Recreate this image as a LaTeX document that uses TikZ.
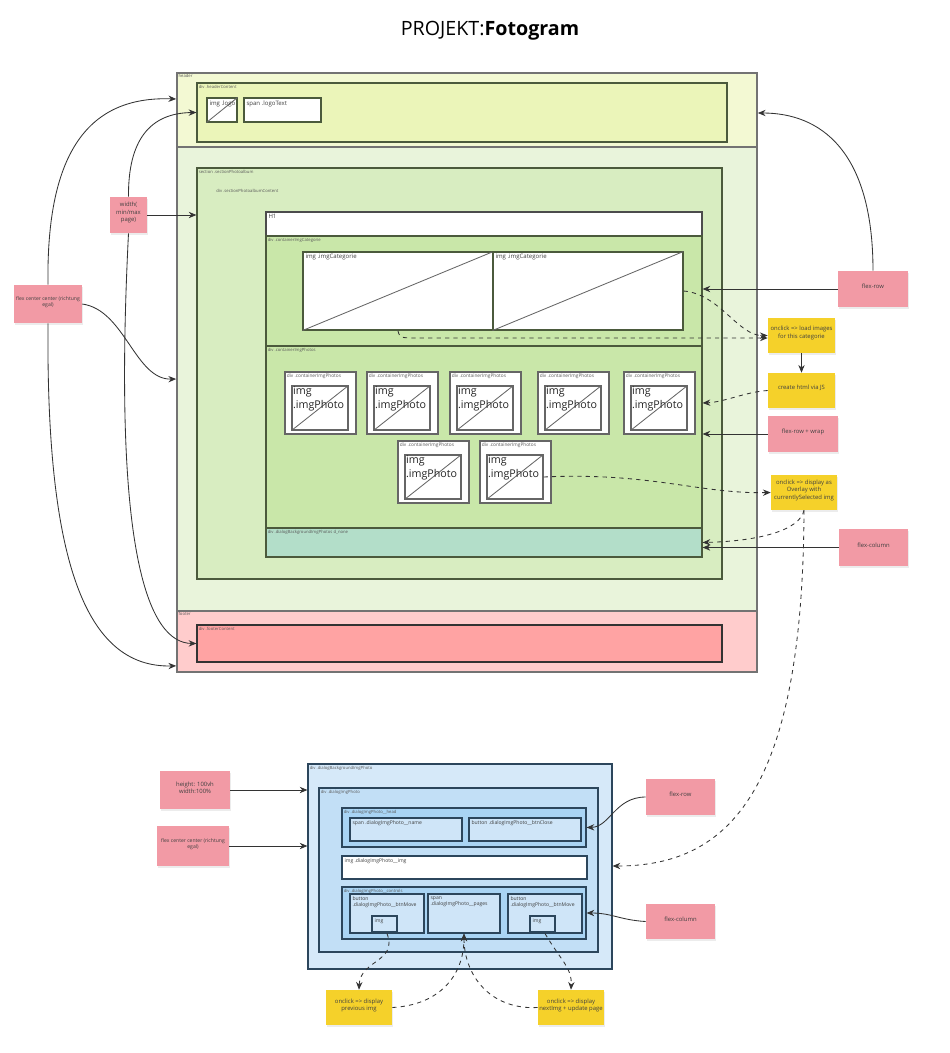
\documentclass[tikz,border=0pt]{standalone}
\usepackage{fontspec}
\setmainfont{Open Sans}
\usetikzlibrary{arrows.meta}
\usetikzlibrary{fit}
\usetikzlibrary{calc}
\usetikzlibrary{shadows}

\definecolor{hdrOuter}{HTML}{F3F9D3}
\definecolor{hdrInner}{HTML}{EBF5B9}
\definecolor{secOuter}{HTML}{E9F4DB}
\definecolor{secInner}{HTML}{D8EDC1}
\definecolor{contGreen}{HTML}{C9E7A9}
\definecolor{dlgTeal}{HTML}{B3DEC9}
\definecolor{ftrOuter}{HTML}{FFCCCC}
\definecolor{ftrInner}{HTML}{FFA3A3}
\definecolor{blueOuter}{HTML}{D6E9F9}
\definecolor{blueMid}{HTML}{C2DFF6}
\definecolor{blueDark}{HTML}{A9D4F4}
\definecolor{blueLight}{HTML}{CFE5F8}
\definecolor{notePink}{HTML}{F29AA5}
\definecolor{noteYellow}{HTML}{F5D12A}
\definecolor{greenLine}{HTML}{4B5A3C}
\definecolor{blueLine}{HTML}{2C465C}

\begin{document}
\begin{tikzpicture}[x=0.025cm, y=-0.025cm,
		box/.style={draw=#1, line width=0.8pt, inner sep=0pt},
		box/.default=greenLine,
		tag/.style={anchor=north west, inner sep=1.5pt, font=\fontsize{3}{3.6}\selectfont, text=black!65},
		lbl/.style={anchor=north west, inner sep=2pt, align=left, font=\fontsize{4.3}{5.4}\selectfont, text=black!75},
		smalllbl/.style={lbl, font=\fontsize{3.6}{4.6}\selectfont},
		photolbl/.style={anchor=north west, inner sep=1pt, align=left, font=\fontsize{7.6}{9.6}\selectfont, text=black!85},
		diag/.style={draw=black!60, line width=0.6pt},
		note/.style={inner sep=0pt, align=center, text width=1.45cm, font=\fontsize{4.2}{5.4}\selectfont, text=black!75,
			drop shadow={opacity=0.15, shadow xshift=0.4pt, shadow yshift=-1.3pt}},
		pinknote/.style={note, fill=notePink},
		yellownote/.style={note, fill=noteYellow},
		conn/.style={-{Stealth[length=5.5pt,width=4.5pt]}, line width=0.6pt, draw=black!80},
		dashconn/.style={conn, dashed}]
	\useasboundingbox (0,0) rectangle (949,1053);

	\node[font=\fontsize{14}{16}\selectfont] (title) at (490,31) {PROJEKT:\textbf{Fotogram}};

	% header
	\node[box=black!55, line width=1.2pt, fill=hdrOuter, fit={(177,73) (757,147)}] (header) {};
	\node[tag] at (header.north west) {header};
	\node[box, fill=hdrInner, fit={(197,83) (727,142)}] (hdc) {};
	\node[tag] at (hdc.north west) {div .headerContent};
	\node[box, fill=white, fit={(207,98) (237,122)}] (logo) {};
	\draw[diag] (logo.south west) -- (logo.north east);
	\node[lbl] at (logo.north west) {img .logo};
	\node[box, fill=white, fit={(244,98) (321,122)}] (logotxt) {};
	\node[lbl] at (logotxt.north west) {span .logoText};

	% section
	\node[box=black!55, line width=1.2pt, fill=secOuter, fit={(177,147) (757,611)}] (sec) {};
	\node[box, fill=secInner, fit={(197,168) (722,579)}] (secbox) {};
	\node[tag] at (secbox.north west) {section .sectionPhotoalbum};
	\node[tag] at (214,187) {div .sectionPhotoalbumContent};
	\node[box=black!70, fill=white, fit={(266,212) (702,236)}] (hone) {};
	\node[lbl] at (hone.north west) {H1};
	\node[box, fill=contGreen, fit={(266,236) (702,346)}] (catbox) {};
	\node[tag] at (catbox.north west) {div .containerImgCategorie};
	\node[box, fill=white, fit={(303,252) (493,330)}] (imgA) {};
	\draw[diag] (imgA.south west) -- (imgA.north east);
	\node[lbl] at (imgA.north west) {img .imgCategorie};
	\node[box, fill=white, fit={(493,252) (683,330)}] (imgB) {};
	\draw[diag] (imgB.south west) -- (imgB.north east);
	\node[lbl] at (imgB.north west) {img .imgCategorie};

	\node[box, fill=contGreen, fit={(266,346) (702,528)}] (photos) {};
	\node[tag] at (photos.north west) {div .containerImgPhotos};
	\foreach \x [count=\i] in {285,367,450,538,624} {
		\node[box=black!60, fill=white, fit={(\x,372) (\x+71,434)}] (cont\i) {};
		\node[tag, font=\fontsize{3.4}{4}\selectfont] at (cont\i.north west) {div .containerImgPhotos};
		\node[box=black!60, fill=white, fit={(\x+7,386) (\x+63,430)}] (pic\i) {};
		\draw[diag] (pic\i.south west) -- (pic\i.north east);
		\node[photolbl] at (pic\i.north west) {img\\.imgPhoto};
	}
	\foreach \x [count=\i from 6] in {398,480} {
		\node[box=black!60, fill=white, fit={(\x,441) (\x+71,503)}] (cont\i) {};
		\node[tag, font=\fontsize{3.4}{4}\selectfont] at (cont\i.north west) {div .containerImgPhotos};
		\node[box=black!60, fill=white, fit={(\x+7,455) (\x+63,499)}] (pic\i) {};
		\draw[diag] (pic\i.south west) -- (pic\i.north east);
		\node[photolbl] at (pic\i.north west) {img\\.imgPhoto};
	}
	\node[box, fill=dlgTeal, fit={(266,528) (702,557)}] (dlgph) {};
	\node[tag] at (dlgph.north west) {div .dialogBackgroundImgPhotos d\_none};

	% footer
	\node[box=black!55, line width=1.2pt, fill=ftrOuter, fit={(177,611) (757,672)}] (footer) {};
	\node[tag] at (footer.north west) {footer};
	\node[box=black!80, fill=ftrInner, fit={(197,625) (722,662)}] (ftc) {};
	\node[tag] at (ftc.north west) {div .footerContent};

	% notes oben
	\node[pinknote, text width=0.85cm, fit={(110,197) (147,233)}] (wdt) {width(\\min/max\\page)};
	\node[pinknote, font=\fontsize{3.6}{4.8}\selectfont, fit={(14,285) (82,323)}] (fcc) {\mbox{flex center center (richtung}\\egal)};
	\node[pinknote, fit={(838,271) (908,307)}] (frow) {flex-row};
	\node[yellownote, fit={(768,318) (835,353)}] (load) {onclick => load images for this categorie};
	\node[yellownote, fit={(768,373) (835,408)}] (chtml) {create html via JS};
	\node[pinknote, fit={(768,416) (838,452)}] (frw) {flex-row + wrap};
	\node[yellownote, fit={(771,475) (837,510)}] (ovl) {onclick => display as Overlay with currentlySelected img};
	\node[pinknote, fit={(839,529) (908,566)}] (fcol) {flex-column};

	\draw[conn] (fcc.north) .. controls (46,150) and (90,96) .. ($(header.west)+(0,-11)$);
	\draw[conn] (fcc.east) .. controls (125,310) and (135,380) .. (sec.west);
	\draw[conn] (fcc.south) .. controls (46,560) and (85,668) .. ($(footer.south west)+(0,-7)$);
	\draw[conn] (wdt.north) .. controls (128,140) and (150,113) .. (hdc.west);
	\draw[conn] (wdt.east) -- (secbox.west |- wdt.east);
	\draw[conn] (wdt.south) .. controls (112,560) and (150,643) .. (ftc.west);
	\draw[conn] (frow.north) .. controls (873,150) and (820,113) .. ($(header.east)+(0,3)$);
	\draw[conn] (frow.west) -- (catbox.east |- frow.west);
	\draw[dashconn] (imgB.east) .. controls (720,294) and (738,336) .. (load.west);
	\draw[dashconn] (398,331) .. controls (400,338) .. (420,338) -- (load.west |- 0,338);
	\draw[conn] (load.south) -- (chtml.north);
	\draw[dashconn] (chtml.west) .. controls (745,392) and (725,402) .. ($(photos.east)+(0,-34)$);
	\draw[conn] (frw.west) -- (photos.east |- frw.west);
	\draw[dashconn] (pic7.east) .. controls (650,472) and (700,494) .. (ovl.west);
	\draw[dashconn] (ovl.south) .. controls (800,530) and (760,541) .. (dlgph.east);
	\draw[conn] (fcol.west) -- (dlgph.east |- fcol.west);

	% dialog
	\node[box=blueLine, fill=blueOuter, fit={(308,764) (612,969)}] (dlgbg) {};
	\node[tag] at (dlgbg.north west) {div .dialogBackgroundImgPhoto};
	\node[box=blueLine, fill=blueMid, fit={(319,788) (598,952)}] (dlg) {};
	\node[tag] at (dlg.north west) {div .dialogImgPhoto};
	\node[box=blueLine, fill=blueDark, fit={(342,808) (586,847)}] (dhead) {};
	\node[tag] at (dhead.north west) {div .dialogImgPhoto\_\_head};
	\node[box=blueLine, fill=blueLight, fit={(350,818) (462,841)}] (dname) {};
	\node[smalllbl] at (dname.north west) {span .dialogImgPhoto\_\_name};
	\node[box=blueLine, fill=blueLight, fit={(469,818) (581,841)}] (dclose) {};
	\node[smalllbl] at (dclose.north west) {button .dialogImgPhoto\_\_btnClose};
	\node[box=blueLine, fill=white, fit={(342,856) (587,879)}] (dimg) {};
	\node[smalllbl] at (dimg.north west) {img .dialogImgPhoto\_\_img};
	\node[box=blueLine, fill=blueDark, fit={(342,887) (586,939)}] (dctrl) {};
	\node[tag] at (dctrl.north west) {div .dialogImgPhoto\_\_controls};
	\node[box=blueLine, fill=blueLight, fit={(350,894) (424,933)}] (btnL) {};
	\node[smalllbl] at (btnL.north west) {button\\.dialogImgPhoto\_\_btnMove};
	\node[box=blueLine, fill=blueLight, fit={(372,916) (397,932)}] (imgL) {};
	\node[smalllbl] at (imgL.north west) {img};
	\node[box=blueLine, fill=blueLight, fit={(428,894) (500,933)}] (pages) {};
	\node[smalllbl] at (pages.north west) {span\\.dialogImgPhoto\_\_pages};
	\node[box=blueLine, fill=blueLight, fit={(508,894) (582,933)}] (btnR) {};
	\node[smalllbl] at (btnR.north west) {button\\.dialogImgPhoto\_\_btnMove};
	\node[box=blueLine, fill=blueLight, fit={(530,916) (555,932)}] (imgR) {};
	\node[smalllbl] at (imgR.north west) {img};

	% notes unten
	\node[pinknote, fit={(160,771) (230,809)}] (hvh) {height: 100vh\\width:100\%};
	\node[pinknote, font=\fontsize{3.6}{4.8}\selectfont, fit={(157,826) (229,866)}] (fcc2) {\mbox{flex center center (richtung}\\egal)};
	\node[pinknote, fit={(646,779) (715,815)}] (frow2) {flex-row};
	\node[pinknote, fit={(646,904) (715,939)}] (fcol2) {flex-column};
	\node[yellownote, fit={(326,990) (392,1025)}] (prev) {onclick => display previous img};
	\node[yellownote, fit={(538,990) (604,1025)}] (next) {onclick => display nextImg + update page};

	\draw[dashconn] (ovl.south) .. controls (803,790) and (730,866) .. ($(dlgbg.east)+(0,-0.5)$);
	\draw[conn] (hvh.east) -- (dlgbg.west |- hvh.east);
	\draw[conn] (fcc2.east) -- (dlgbg.west |- fcc2.east);
	\draw[conn] (frow2.west) .. controls (615,797) and (610,827) .. (dhead.east);
	\draw[conn] (fcol2.west) .. controls (620,920) and (612,913) .. (dctrl.east);
	\draw[dashconn] (btnL.south) .. controls (398,962) and (360,960) .. (prev.north);
	\draw[dashconn] (btnR.south) .. controls (562,962) and (572,968) .. (next.north);
	\draw[dashconn] (prev.east) .. controls (440,1005) and (464,975) .. (pages.south);
	\draw[dashconn] (next.west) .. controls (490,1010) and (464,975) .. (pages.south);
\end{tikzpicture}
\end{document}
